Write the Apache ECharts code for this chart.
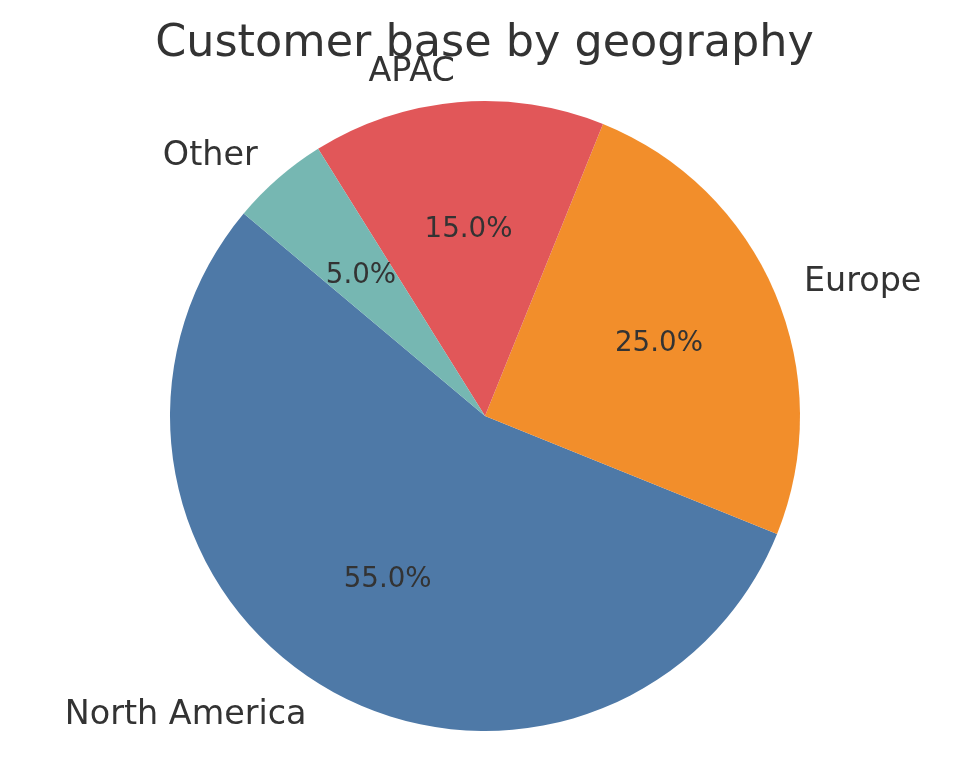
<!DOCTYPE html>
<html>
<head>
<meta charset="utf-8">
<script src="https://cdn.jsdelivr.net/npm/echarts@6/dist/echarts.min.js"></script>
<style>
html,body{margin:0;padding:0;background:#fff;}
#main{width:969px;height:783px;}
</style>
</head>
<body>
<div id="main"></div>
<script>
const categories = ['North America', 'Europe', 'APAC', 'Other'];
const shares = [55, 25, 15, 5];
const colors = ['#4e79a7', '#f28e2b', '#e15759', '#76b7b2'];
const titleText = 'Customer base by geography';

const R = 315;
const center = [485, 416];
const font = 'DejaVu Sans';
const total = shares.reduce((a, b) => a + b, 0);

const chart = echarts.init(document.getElementById('main'));
chart.setOption({
  animation: false,
  backgroundColor: '#ffffff',
  title: {
    text: titleText,
    left: 'center',
    top: 17,
    textStyle: { fontFamily: font, fontSize: 44.5, fontWeight: 'normal', color: '#333333' }
  },
  series: [
    {
      type: 'pie',
      center: center,
      radius: [0, R],
      startAngle: 140,
      clockwise: false,
      avoidLabelOverlap: false,
      silent: true,
      data: categories.map((c, i) => ({ name: c, value: shares[i], itemStyle: { color: colors[i] } })),
      itemStyle: { borderWidth: 0 },
      label: {
        show: true,
        position: 'outside',
        formatter: '{n|{b}}',
        rich: {
          n: { fontFamily: font, fontSize: 33.4, color: '#333333', padding: [4, 0, 0, 0] }
        },
        distanceToLabelLine: 0
      },
      labelLine: { show: false, length: R * 0.1, length2: 0 },
      emphasis: { disabled: true }
    },
    {
      type: 'pie',
      center: center,
      radius: [R * 0.2 - 6, R],
      startAngle: 140,
      clockwise: false,
      avoidLabelOverlap: false,
      silent: true,
      data: categories.map((c, i) => ({ name: c, value: shares[i] })),
      itemStyle: { color: 'rgba(0,0,0,0)', borderWidth: 0 },
      label: {
        show: true,
        position: 'inside',
        formatter: p => '{v|' + (p.value / total * 100).toFixed(1) + '%}',
        rich: {
          v: { fontFamily: font, fontSize: 27.7, color: '#333333', padding: [4, 0, 0, 0] }
        }
      },
      labelLine: { show: false },
      emphasis: { disabled: true }
    }
  ]
});
</script>
</body>
</html>
